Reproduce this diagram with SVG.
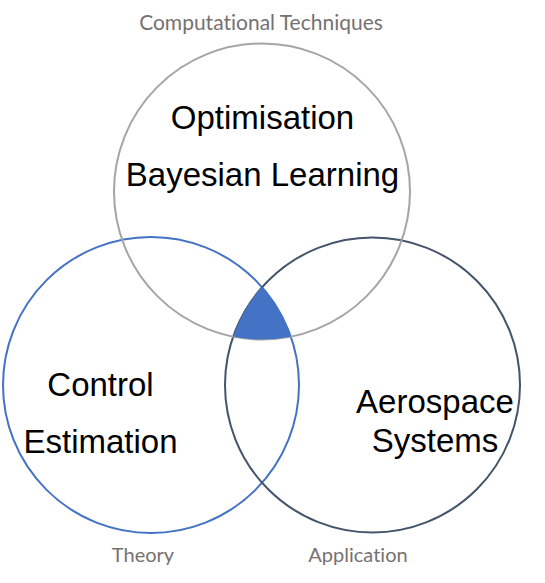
<svg xmlns="http://www.w3.org/2000/svg" width="545" height="583" viewBox="0 0 545 583">
<style>
.c{fill:none;stroke-width:2}
.t{font-family:"Liberation Sans",Arial,sans-serif;font-size:33px;fill:#000;text-anchor:middle}
.l{font-family:Lato,"Open Sans",sans-serif;font-size:20px;fill:#767171;text-anchor:middle;font-variant-ligatures:none}
</style>
<rect width="545" height="583" fill="#fff"/>
<g id="theory">
<circle class="c" cx="151" cy="385" r="148" stroke="#4472c4"/>
<text class="t" x="100.5" y="396">Control</text>
<text class="t" x="100.5" y="453">Estimation</text>
<text class="l" x="143" y="562">Theory</text>
</g>
<g id="application">
<circle class="c" cx="372.5" cy="385" r="147.5" stroke="#44546a"/>
<text class="t" x="435" y="413">Aerospace</text>
<text class="t" x="435" y="452">Systems</text>
<text class="l" x="358" y="562">Application</text>
</g>
<g id="computational">
<circle class="c" cx="262" cy="191.5" r="148" stroke="#a5a5a5"/>
<text class="t" x="262.5" y="129">Optimisation</text>
<text class="t" x="262.5" y="186">Bayesian Learning</text>
<text class="l" x="261" y="30" style="font-size:21px">Computational Techniques</text>
</g>
<g id="intersection">
<path d="M261.75,286.8 A147.5,147.5 0 0 0 233.2,336.7 A148,148 0 0 0 290.9,336.7 A148,148 0 0 0 261.75,286.8 Z" fill="#4472c4"/>
</g>
</svg>
